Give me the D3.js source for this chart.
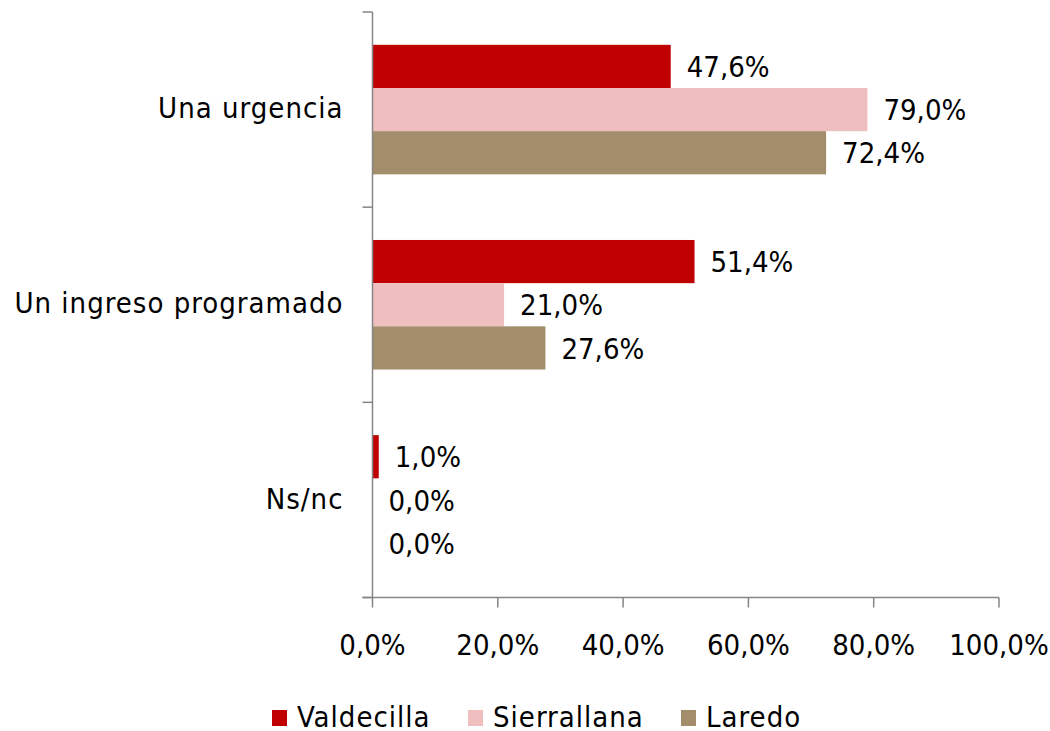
<!DOCTYPE html>
<html><head><meta charset="utf-8">
<script src="https://cdn.jsdelivr.net/npm/d3@7"></script>
<style>body{margin:0;background:#fff}svg{display:block}text{font-family:"DejaVu Sans Condensed","DejaVu Sans",sans-serif;fill:#000}</style>
</head><body>
<svg id="c" width="1050" height="731"></svg>
<script>
const categories = ["Una urgencia", "Un ingreso programado", "Ns/nc"];
const seriesNames = ["Valdecilla", "Sierrallana", "Laredo"];
const valdecilla = [47.6, 51.4, 1.0];
const sierrallana = [79.0, 21.0, 0.0];
const laredo = [72.4, 27.6, 0.0];
const xTicks = [0, 20, 40, 60, 80, 100];
const colors = ["#C00000", "#EFBFBF", "#A48D6A"];

(function () {
const series = [valdecilla, sierrallana, laredo];
const svg = d3.select("#c");
const pL = 372.5, pR = 999, pT = 12, pB = 597.5;
const fs = 29;
const x = d3.scaleLinear().domain([0, 100]).range([pL, pR]);
const y = d3.scaleBand().domain(categories).range([pT, pB]).paddingInner(0).paddingOuter(0);
const inner = d3.scaleBand().domain(seriesNames).range([0, y.bandwidth()]).paddingInner(0).paddingOuter(0.76);
const fmt = v => v.toFixed(1).replace(".", ",") + "%";
const axisColor = "#868686";

categories.forEach((cat, i) => {
  seriesNames.forEach((s, j) => {
    const v = series[j][i];
    const y0 = y(cat) + inner(s);
    svg.append("rect").attr("x", x(0)).attr("y", y0)
      .attr("width", x(v) - x(0)).attr("height", inner.bandwidth())
      .attr("fill", colors[j]);
    svg.append("text").attr("x", x(v) + 16).attr("y", y0 + inner.bandwidth() / 2)
      .attr("dy", "0.37em").attr("font-size", fs).text(fmt(v));
  });
});

const gy = svg.append("g").attr("transform", `translate(${pL},0)`);
gy.append("line").attr("x1", 0).attr("x2", 0).attr("y1", pT).attr("y2", pB).attr("stroke", axisColor).attr("stroke-width", 1.5);
const yTicks = categories.map(c => y(c)).concat([pB]);
yTicks.forEach(t => gy.append("line").attr("x1", -10).attr("x2", 0).attr("y1", t).attr("y2", t).attr("stroke", axisColor).attr("stroke-width", 1.5));
categories.forEach(c => {
  gy.append("text").attr("x", -29).attr("y", y(c) + y.bandwidth() / 2).attr("dy", "0.3em")
    .attr("text-anchor", "end").attr("font-size", fs).attr("letter-spacing", 1).text(c);
});

const gx = svg.append("g").attr("transform", `translate(0,${pB})`);
gx.append("line").attr("x1", pL - 10).attr("x2", pR).attr("y1", 0).attr("y2", 0).attr("stroke", axisColor).attr("stroke-width", 1.5);
xTicks.forEach(t => {
  gx.append("line").attr("x1", x(t)).attr("x2", x(t)).attr("y1", 0).attr("y2", 10).attr("stroke", axisColor).attr("stroke-width", 1.5);
  gx.append("text").attr("x", x(t)).attr("y", 57.5).attr("text-anchor", "middle").attr("font-size", fs).text(fmt(t));
});

const legendX = [272, 468, 681];
seriesNames.forEach((s, j) => {
  svg.append("rect").attr("x", legendX[j]).attr("y", 710).attr("width", 15).attr("height", 16).attr("fill", colors[j]);
  svg.append("text").attr("x", legendX[j] + 25).attr("y", 726.5).attr("font-size", fs).attr("letter-spacing", 1).text(s);
});
})();
</script>
</body></html>
